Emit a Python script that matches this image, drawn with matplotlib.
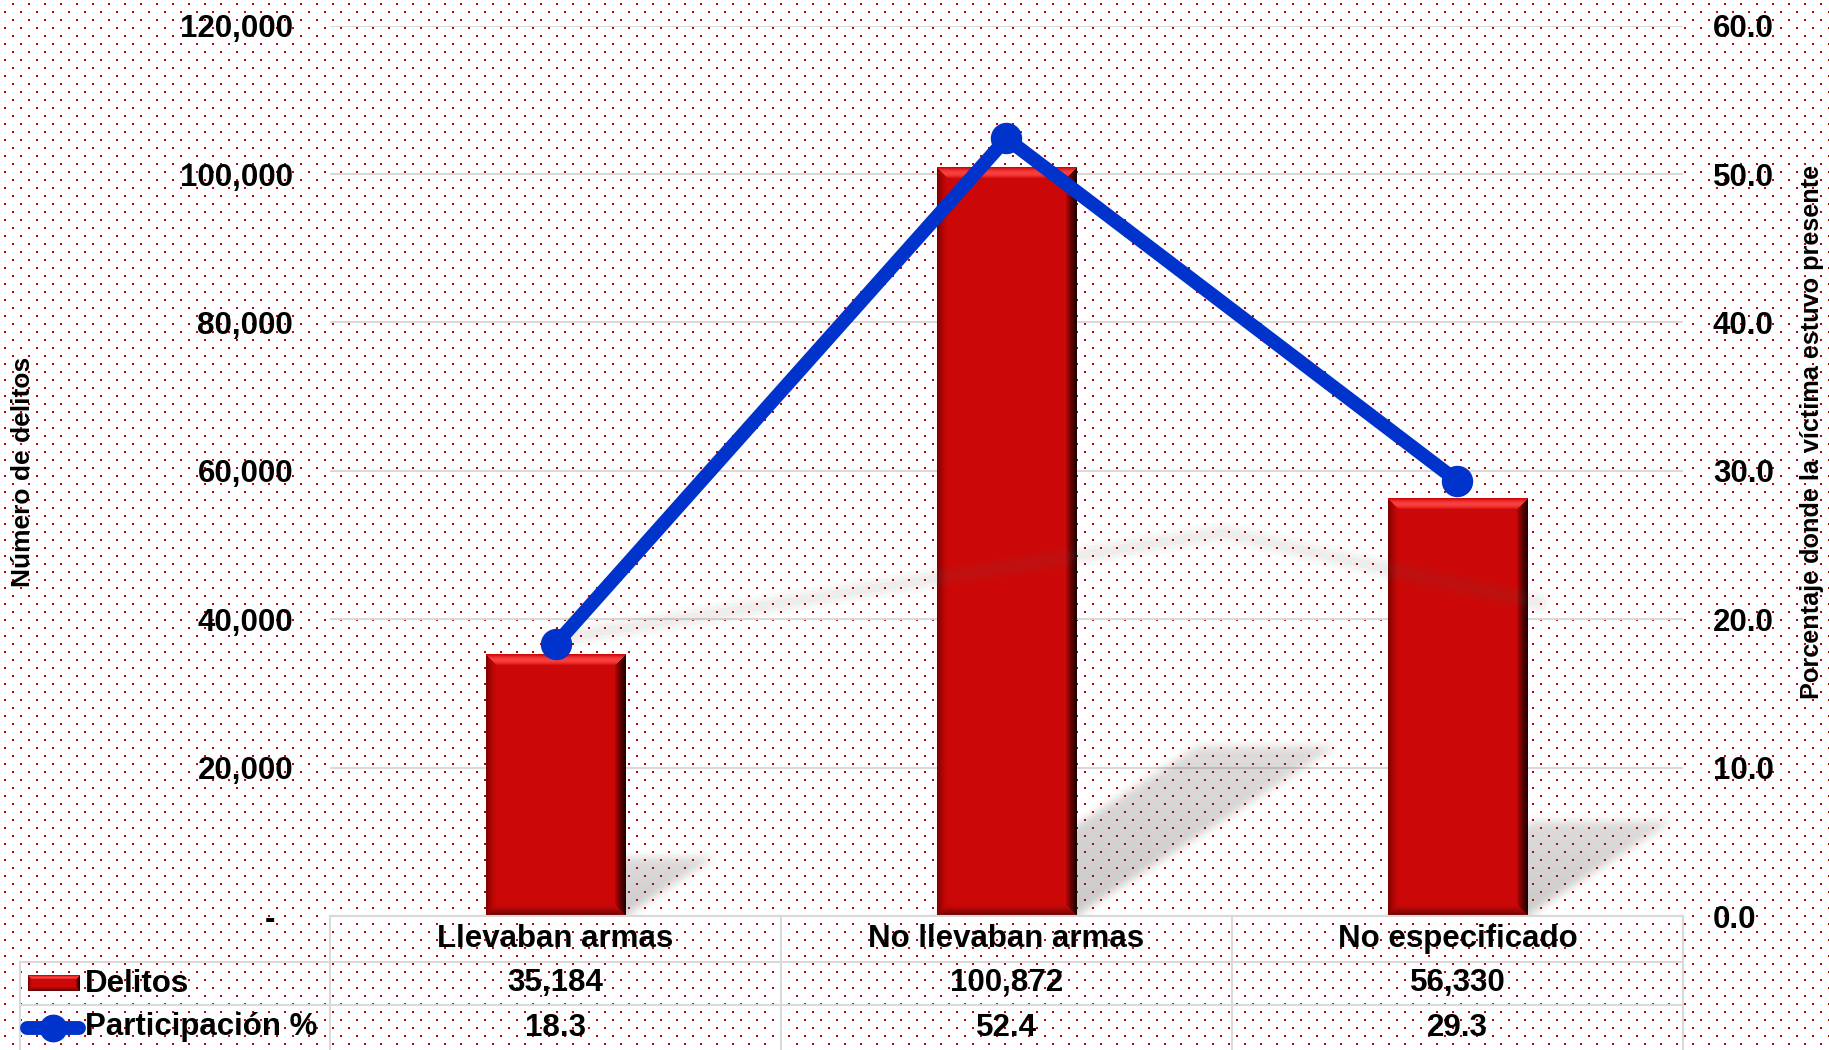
import numpy as np
import matplotlib.pyplot as plt

plt.rcParams['font.family'] = ['Liberation Sans', 'DejaVu Sans']
plt.rcParams['font.weight'] = 'bold'

# Datos
categorias = ['Llevaban armas', 'No llevaban armas', 'No especificado']
delitos = [35184, 100872, 56330]
participacion = [18.3, 52.4, 29.3]
ticks_izq = [0, 20000, 40000, 60000, 80000, 100000, 120000]
ticks_der = [0, 10, 20, 30, 40, 50, 60]

W, H, DPI = 1829, 1050, 100
ROJO = '#CC0808'
AZUL = '#0033CC'
GRIS = '#D9D9D9'
FS = 22.5

# zona del grafico en pixeles
izq, der, arriba, base = 330, 1683, 25.7, 916


def bisel(w, h, b):
    i = np.broadcast_to(np.arange(h)[:, None], (h, w))
    j = np.broadcast_to(np.arange(w)[None, :], (h, w))
    d = np.stack([i, h - 1 - i, j, w - 1 - j])
    lado = d.argmin(0)
    u = np.clip(d.min(0) / b, 0, 1)
    cara = np.array([0.80, 0.03, 0.03])
    bordes = [np.array([1.0, 0.27, 0.27]), np.array([0.42, 0.02, 0.02]),
              np.array([0.50, 0.0, 0.0]), np.array([0.12, 0.0, 0.0])]
    pesos = [np.sin(np.pi * u) * 0.9, (1 - u) ** 1.2,
             (1 - u) ** 1.6, (1 - u) ** 0.8]
    img = np.empty((h, w, 3))
    img[:] = cara
    for k in range(4):
        m = lado == k
        img[m] = cara * (1 - pesos[k][m][:, None]) + bordes[k] * pesos[k][m][:, None]
    return img


def desenfocar(a, r):
    k = 2 * r + 1
    for eje in (0, 1):
        pad = [(0, 0), (0, 0)]
        pad[eje] = (r, r)
        p = np.pad(a, pad, mode='edge')
        c = np.cumsum(p, axis=eje)
        c = np.concatenate([np.zeros_like(np.take(c, [0], axis=eje)), c], axis=eje)
        a = (np.take(c, np.arange(k, c.shape[eje]), axis=eje)
             - np.take(c, np.arange(0, c.shape[eje] - k), axis=eje)) / k
    return a


fig = plt.figure(figsize=(W / DPI, H / DPI), dpi=DPI)
fig.patch.set_facecolor('white')

# fondo de puntos rojos
yy, xx = np.mgrid[0:H, 0:W]
fila = (yy - 3) // 8
puntos = ((yy - 3) % 8 < 2) & ((xx - 12 + 8 * (fila % 2)) % 16 < 2) & (yy >= 3)
fondo = np.ones((H, W, 3))
fondo[puntos] = (0.78, 0.0, 0.0)
fig.figimage(fondo, zorder=-5)

ax = fig.add_axes([izq / W, (H - base) / H, (der - izq) / W, (base - arriba) / H])
ax.set_facecolor('none')
for s in ax.spines.values():
    s.set_visible(False)

x = np.arange(len(categorias))
ancho = 0.31
barras = ax.bar(x, delitos, width=ancho, color=ROJO, zorder=2)

ax.set_xlim(-0.5, 2.5)
ax.set_ylim(0, 120000)

# sombras de las barras
aw, ah = int(der - izq), int(base - arriba)
px_x = aw / 3.0
px_y = ah / 120000
sy, sx = np.mgrid[0:ah, 0:aw]
alfa = np.zeros((ah, aw))
for b in barras:
    xl = (b.get_x() + 0.5) * px_x
    xr = xl + b.get_width() * px_x
    hp = b.get_height() * px_y
    dx, dy = 0.347 * hp, 0.226 * hp
    t = sy / dy
    dentro = (sy <= dy) & (sx >= xl + t * dx) & (sx <= xr + t * dx)
    alfa = np.maximum(alfa, dentro * 0.30 * (1 - 0.35 * t))
alfa = desenfocar(desenfocar(alfa, 5), 4)
sombra = np.zeros((ah, aw, 4))
sombra[..., :3] = 0.3
sombra[..., 3] = alfa
ax.imshow(sombra, extent=(-0.5, 2.5, 0, 120000), origin='lower', aspect='auto',
          zorder=1, interpolation='nearest')

# relieve de las barras
for b in barras:
    wpx = int(round(b.get_width() * px_x))
    hpx = int(round(b.get_height() * px_y))
    ax.imshow(bisel(wpx, hpx, 11),
              extent=(b.get_x(), b.get_x() + b.get_width(), 0, b.get_height()),
              aspect='auto', zorder=3, interpolation='antialiased')

ax.set_xlim(-0.5, 2.5)
ax.set_ylim(0, 120000)
ax.set_xticks([])
ax.set_yticks(ticks_izq)
ax.set_yticklabels(['-  '] + [f'{v:,}' for v in ticks_izq[1:]], fontsize=FS, fontweight='bold')
ax.tick_params(axis='y', length=0, pad=26.6)
ax.yaxis.grid(True, color=GRIS, lw=1.5)
ax.set_axisbelow(True)

ax2 = ax.twinx()
for s in ax2.spines.values():
    s.set_visible(False)
ax2.set_ylim(0, 60)
ax2.set_yticks(ticks_der)
ax2.set_yticklabels([f'{v:.1f}' for v in ticks_der], fontsize=FS, fontweight='bold')
ax2.tick_params(axis='y', length=0, pad=21.6)

# sombra tenue de la linea
p = np.array(participacion)
lx = x + 0.013 * p - 0.2
ly = 0.205 * p + 15.1
for lw in (16, 11, 6):
    ax2.plot(lx, ly, color='0.4', lw=lw, alpha=0.04, solid_capstyle='round', zorder=2)

ax2.plot(x, participacion, color=AZUL, lw=10, marker='o', ms=21.6,
         solid_joinstyle='round', solid_capstyle='round', zorder=5)

fig.text(23 / W, 1 - 472 / H, 'Número de delitos', rotation=90, fontsize=19,
         fontweight='bold', ha='center', va='center')
fig.text(1812 / W, 1 - 432 / H, 'Porcentaje donde la víctima estuvo presente',
         rotation=90, fontsize=18.2, fontweight='bold', ha='center', va='center')

# tabla de datos
at = fig.add_axes([0, 0, 1, 1], zorder=10)
at.set_facecolor('none')
at.set_xlim(0, W)
at.set_ylim(H, 0)
at.axis('off')

cols = np.linspace(izq, der, len(categorias) + 1)
centros = (cols[:-1] + cols[1:]) / 2
filas = [base, 962, 1005, H]
at.plot([izq, der], [filas[0], filas[0]], color=GRIS, lw=1.5)
for yf in filas[1:3]:
    at.plot([20, der], [yf, yf], color=GRIS, lw=1.5)
for xc in cols:
    at.plot([xc, xc], [filas[0], H], color=GRIS, lw=1.5)
at.plot([20, 20], [filas[1], H], color=GRIS, lw=1.5)

ymed = [(filas[k] + filas[k + 1]) / 2 for k in range(3)]
for k, c in enumerate(centros):
    at.text(c, ymed[0], categorias[k], ha='center', va='center', fontsize=FS)
    at.text(c, ymed[1], f'{delitos[k]:,}', ha='center', va='center', fontsize=FS)
    at.text(c, ymed[2], f'{participacion[k]:.1f}', ha='center', va='center', fontsize=FS)

at.text(85, ymed[1], 'Delitos', ha='left', va='center', fontsize=FS)
at.text(85, ymed[2], 'Participación %', ha='left', va='center', fontsize=FS)
at.imshow(bisel(52, 16, 4), extent=(28, 80, ymed[1] + 8, ymed[1] - 8), aspect='auto',
          interpolation='antialiased')
at.plot([27, 79], [ymed[2], ymed[2]], color=AZUL, lw=10, solid_capstyle='round')
at.plot([53], [ymed[2]], color=AZUL, marker='o', ms=19)
at.set_xlim(0, W)
at.set_ylim(H, 0)

fig.savefig('out.png', dpi=DPI)
